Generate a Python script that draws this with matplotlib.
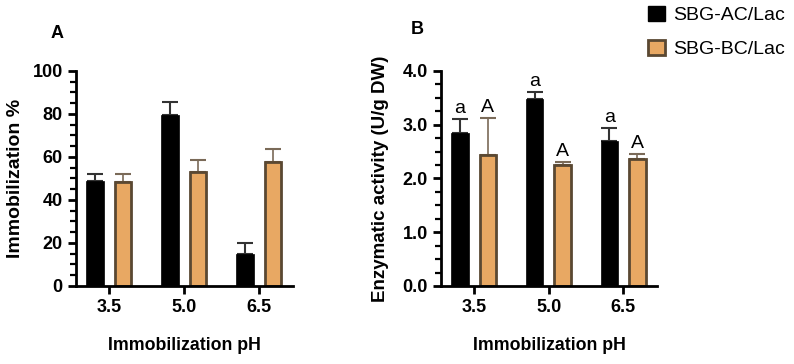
import numpy as np
import matplotlib.pyplot as plt
from matplotlib.patches import Patch
from matplotlib.ticker import MultipleLocator

plt.rcParams['font.family'] = ['Liberation Sans', 'DejaVu Sans']

ph_labels = ["3.5", "5.0", "6.5"]
series = ["SBG-AC/Lac", "SBG-BC/Lac"]

# panel A - immobilization %
imm_ac = [48.6, 79.6, 14.8]
imm_ac_err = [3.6, 6.0, 5.2]
imm_bc = [48.5, 52.8, 57.6]
imm_bc_err = [3.7, 5.7, 5.9]

# panel B - enzymatic activity (U/g DW)
act_ac = [2.85, 3.48, 2.69]
act_ac_err = [0.26, 0.12, 0.25]
act_bc = [2.43, 2.25, 2.37]
act_bc_err = [0.70, 0.05, 0.08]
letters_ac = ["a", "a", "a"]
letters_bc = ["A", "A", "A"]

black = "#000000"
orange = "#E8A863"
edge = "#5A4832"
err_bc = "#7A6A58"

fig = plt.figure(figsize=(7.94, 3.64), dpi=100)
axA = fig.add_axes([0.0957, 0.2143, 0.2733, 0.5907])
axB = fig.add_axes([0.5554, 0.2143, 0.2721, 0.5907])

x = np.arange(len(ph_labels))
off = 0.187
w = 0.235


def draw(ax, ac, ac_err, bc, bc_err):
    ax.bar(x - off, ac, w, color=black, edgecolor=black, linewidth=0.5, zorder=2)
    ax.bar(x + off, bc, w * 0.93, color=orange, edgecolor=edge, linewidth=2, zorder=2)
    ax.errorbar(x - off, ac, yerr=[np.zeros(3), ac_err], fmt="none", ecolor="#333333",
                elinewidth=1.5, capsize=6, capthick=1.5, zorder=1)
    ax.errorbar(x + off, bc, yerr=[np.zeros(3), bc_err], fmt="none", ecolor=err_bc,
                elinewidth=1.2, capsize=6, capthick=1.5, zorder=1)
    ax.set_xlim(-0.44, 2.45)
    ax.set_xticks(x)
    ax.set_xticklabels(ph_labels)
    for s in ["top", "right"]:
        ax.spines[s].set_visible(False)
    for s in ["left", "bottom"]:
        ax.spines[s].set_linewidth(2)
    ax.tick_params(axis="both", which="major", width=2, length=6, labelsize=13, direction="out")
    ax.tick_params(axis="x", which="major", pad=3.5)
    ax.tick_params(axis="y", which="minor", width=1.6, length=4)
    for lab in ax.get_xticklabels() + ax.get_yticklabels():
        lab.set_fontweight("bold")
    ax.set_xlabel("Immobilization pH", fontsize=12.8, fontweight="bold", labelpad=15)


draw(axA, imm_ac, imm_ac_err, imm_bc, imm_bc_err)
axA.set_ylim(0, 100)
axA.yaxis.set_major_locator(MultipleLocator(20))
axA.yaxis.set_minor_locator(MultipleLocator(5))
axA.set_yticks([0, 20, 40, 60, 80, 100])
axA.set_yticklabels(["0", "20", "40", "60", "80", "100"], fontweight="bold")
axA.set_ylim(0, 100)
axA.set_ylabel("Immobilization %", fontsize=14, fontweight="bold", labelpad=6)
fig.text(0.064, 0.907, "A", fontsize=13, fontweight="bold", va="center")

draw(axB, act_ac, act_ac_err, act_bc, act_bc_err)
axB.set_ylim(0, 4.0)
axB.yaxis.set_major_locator(MultipleLocator(1.0))
axB.yaxis.set_minor_locator(MultipleLocator(0.25))
axB.set_yticks([0, 1, 2, 3, 4])
axB.set_yticklabels(["0.0", "1.0", "2.0", "3.0", "4.0"], fontweight="bold")
axB.set_ylim(0, 4.0)
axB.set_ylabel("Enzymatic activity (U/g DW)", fontsize=13.5, fontweight="bold", labelpad=10)
fig.text(0.517, 0.918, "B", fontsize=13, fontweight="bold", va="center")

for i in range(3):
    axB.text(x[i] - off, act_ac[i] + act_ac_err[i] + 0.04, letters_ac[i],
             ha="center", va="bottom", fontsize=14)
    axB.text(x[i] + off, act_bc[i] + act_bc_err[i] + 0.04, letters_bc[i],
             ha="center", va="bottom", fontsize=14)

handles = [Patch(facecolor=black, edgecolor=black),
           Patch(facecolor=orange, edgecolor=edge, linewidth=2)]
fig.legend(handles, series, loc="upper left", bbox_to_anchor=(0.809, 1.0),
           frameon=False, fontsize=14, handlelength=0.85, handleheight=0.85,
           labelspacing=0.8, handletextpad=0.45, borderpad=0.3, borderaxespad=0)

fig.savefig("out.png", dpi=100)
